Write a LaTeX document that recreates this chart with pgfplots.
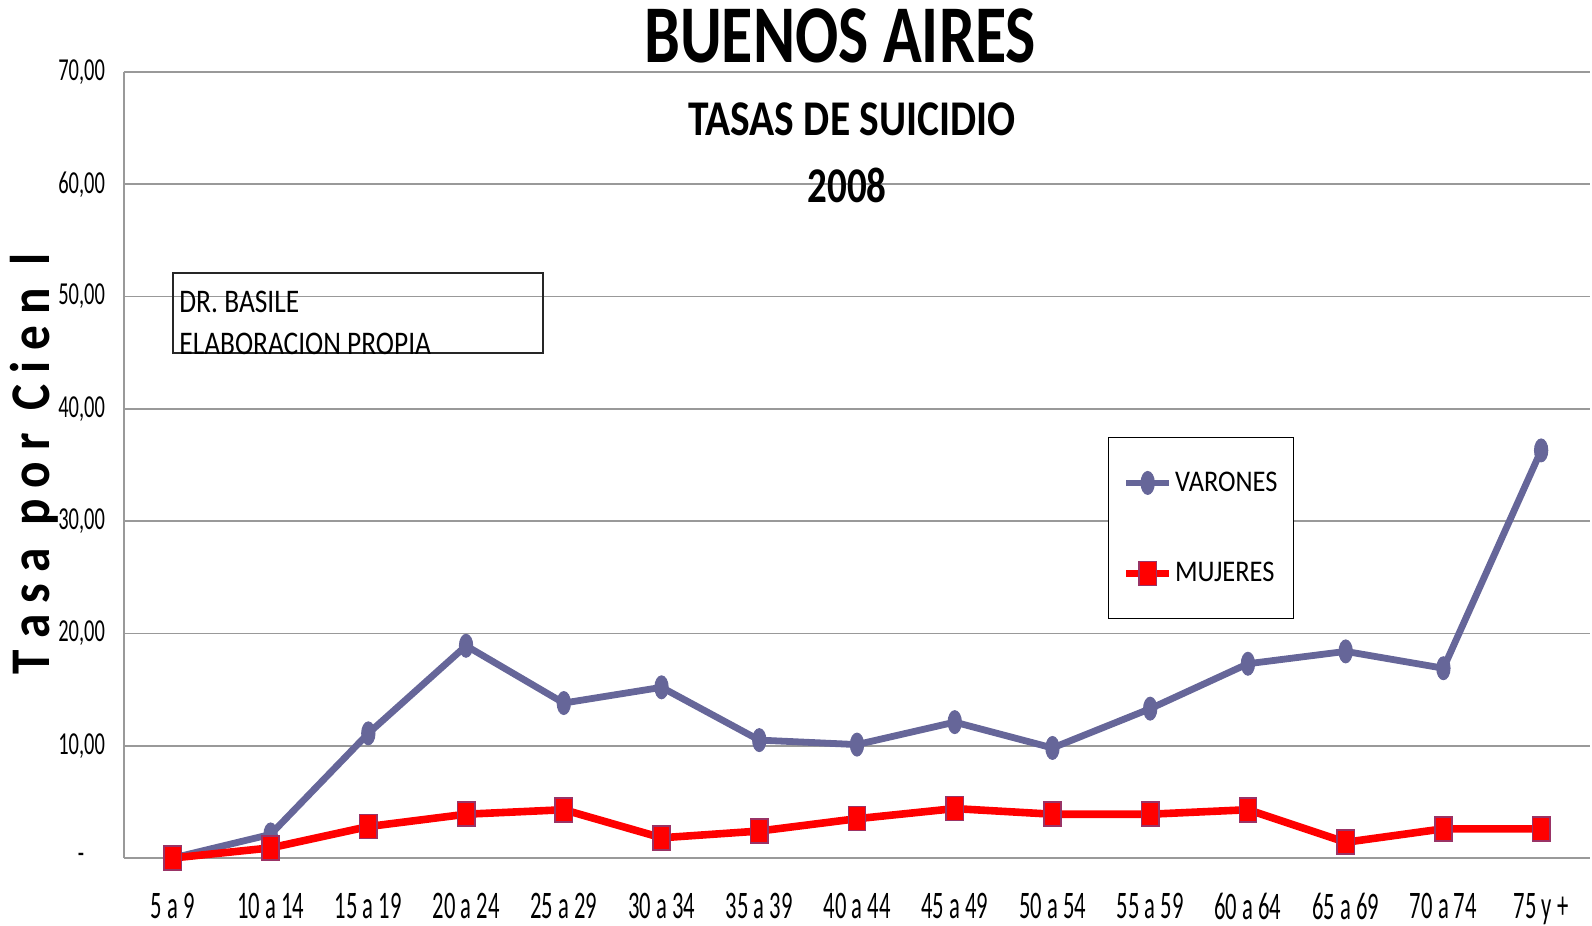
\documentclass[border=0pt]{standalone}
\usepackage{pgfplots}
\pgfplotsset{compat=1.18}
\usepackage{fontspec}
\setmainfont{Carlito}
\newfontfamily\tickfont[FakeStretch=0.64]{Carlito}
\newfontfamily\xtickfont[FakeStretch=0.58]{Carlito}
\newfontfamily\legfont[FakeStretch=0.88]{Carlito}
\newfontfamily\notefont[FakeStretch=0.83]{Carlito}
\newfontfamily\titlefont[FakeStretch=0.78]{Carlito}
\newfontfamily\subtitlefont[FakeStretch=0.83]{Carlito}
\newfontfamily\ylabfont[FakeStretch=0.88]{Carlito}
\definecolor{varon}{HTML}{666699}
\definecolor{mujer}{HTML}{FF0000}
\definecolor{mujerb}{HTML}{993366}
\definecolor{gridc}{HTML}{999999}
\pgfplotstableread{
x v m
0 0.0 0.0
1 2.1 0.9
2 11.1 2.8
3 18.9 3.9
4 13.8 4.3
5 15.2 1.8
6 10.5 2.4
7 10.1 3.5
8 12.1 4.4
9 9.8 3.9
10 13.3 3.9
11 17.3 4.3
12 18.4 1.4
13 16.9 2.6
14 36.3 2.6
}\datos
\begin{document}
\begin{tikzpicture}
\useasboundingbox (-62bp,-34bp) rectangle (734bp,429bp);
\begin{axis}[
  at={(0,0)}, anchor=south west,
  scale only axis,
  width=733bp, height=393bp,
  xmin=-0.5, xmax=14.5,
  ymin=0, ymax=70,
  xtick={0,...,14},
  xticklabels={5 a 9,10 a 14,15 a 19,20 a 24,25 a 29,30 a 34,35 a 39,40 a 44,45 a 49,50 a 54,55 a 59,60 a 64,65 a 69,70 a 74,75 y +},
  ytick={0,10,...,70},
  yticklabels={-\hphantom{00},{10,00},{20,00},{30,00},{40,00},{50,00},{60,00},{70,00}},
  major tick length=0pt,
  axis x line*=bottom,
  axis y line*=left,
  axis line style={gridc, line width=0.8pt},
  ymajorgrids,
  grid style={gridc, line width=0.8pt},
  xticklabel style={font=\xtickfont\fontsize{19.5bp}{22bp}\selectfont, yshift=-16.3bp, inner ysep=1bp},
  yticklabel style={font=\tickfont\fontsize{16bp}{18bp}\selectfont, xshift=-6bp},
  clip=false,
  legend style={at={(0.671,0.5356)}, anchor=north west, draw=black, line width=0.7pt,
    font=\legfont\fontsize{15bp}{18bp}\selectfont,
    inner xsep=7bp, inner ysep=15bp, row sep=30bp,
    nodes={inner xsep=1bp}},
  legend cell align=left,
  legend image code/.code={\draw[mark repeat=2,mark phase=2] plot coordinates {(0bp,0bp)(10.75bp,0bp)(21.5bp,0bp)};},
]
\addplot[color=varon, line width=3.4bp, mark=*, mark size=5.75bp,
  mark options={xscale=0.58, fill=varon, draw=varon, line width=0.5pt}]
  table[x=x, y=v] {\datos};
\addlegendentry{VARONES}
\addplot[color=mujer, line width=3.8bp, mark=square*, mark size=6bp,
  mark options={xscale=0.72, fill=mujer, draw=mujerb, line width=0.8pt}]
  table[x=x, y=m] {\datos};
\addlegendentry{MUJERES}
\end{axis}
% titles
\node[font=\titlefont\bfseries\fontsize{41bp}{45bp}\selectfont] at (358bp,411bp) {BUENOS AIRES};
\node[font=\subtitlefont\bfseries\fontsize{25bp}{28bp}\selectfont] at (364bp,369.5bp) {TASAS DE SUICIDIO};
\node[font=\titlefont\bfseries\fontsize{25bp}{28bp}\selectfont] at (361.5bp,336.5bp) {2008};
% note box
\draw[black!85, line width=0.7pt] (24.5bp,252.5bp) rectangle (209.5bp,292.5bp);
\node[anchor=west, inner sep=0pt, font=\notefont\fontsize{16.5bp}{18bp}\selectfont] at (27.5bp,278bp) {DR. BASILE};
\node[anchor=west, inner sep=0pt, font=\notefont\fontsize{16.5bp}{18bp}\selectfont] at (27.5bp,257bp) {ELABORACION PROPIA};
% y label
\node[rotate=90, font=\ylabfont\bfseries\fontsize{28bp}{32bp}\selectfont] at (-45bp,197bp) {T a s a \ p o r \ C i e n \ l};
\end{tikzpicture}
\end{document}
